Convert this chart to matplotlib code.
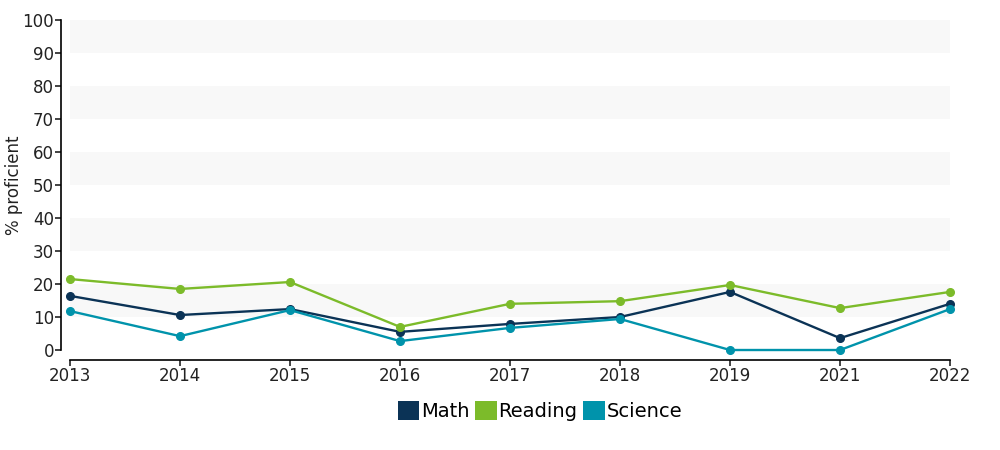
import matplotlib.pyplot as plt
from matplotlib.patches import Patch

years = ['2013', '2014', '2015', '2016', '2017', '2018', '2019', '2021', '2022']
math = [16.4, 10.6, 12.4, 5.5, 7.9, 10.0, 17.6, 3.6, 14.0]
reading = [21.5, 18.5, 20.6, 7.0, 14.0, 14.8, 19.7, 12.7, 17.6]
science = [11.8, 4.2, 12.1, 2.7, 6.7, 9.4, 0.0, 0.0, 12.4]

names = ['Math', 'Reading', 'Science']
colors = ['#0b3356', '#7cbb2a', '#0093ab']

plt.rcParams['font.family'] = 'DejaVu Sans'
fig = plt.figure(figsize=(10, 4.5), dpi=100)
ax = fig.add_axes([0.07, 0.2222, 0.88, 0.7334])

# alternating bands
for lo in range(10, 100, 20):
    ax.axhspan(lo, lo + 10, color='#f8f8f8', zorder=0, lw=0)

x = list(range(len(years)))
for vals, c in zip([math, reading, science], colors):
    ax.plot(x, vals, color=c, lw=1.7, marker='o', markersize=5.5, clip_on=False, zorder=3)

ax.set_xlim(0, len(years) - 1)
ax.set_ylim(0, 100)
ax.set_xticks(x)
ax.set_xticklabels(years)
ax.set_yticks(range(0, 101, 10))
ax.tick_params(labelsize=12, colors='#222222', length=4, width=1.2, pad=1)
for s in ['top', 'right']:
    ax.spines[s].set_visible(False)
ax.spines['left'].set_position(('outward', 6.5))
ax.spines['bottom'].set_position(('outward', 7.2))
ax.spines['left'].set_linewidth(1.2)
ax.spines['bottom'].set_linewidth(1.2)
ax.set_ylabel('% proficient', fontsize=12, color='#222222')
ax.yaxis.set_label_coords(-0.053, 0.5)

handles = [Patch(facecolor=c, edgecolor='none') for c in colors]
fig.legend(handles, names, loc='center', bbox_to_anchor=(0.54, 0.087), ncol=3,
           frameon=False, fontsize=14, handlelength=1.1, handleheight=1.1,
           handletextpad=0.1, columnspacing=0.3)

fig.savefig('out.png', dpi=100)
